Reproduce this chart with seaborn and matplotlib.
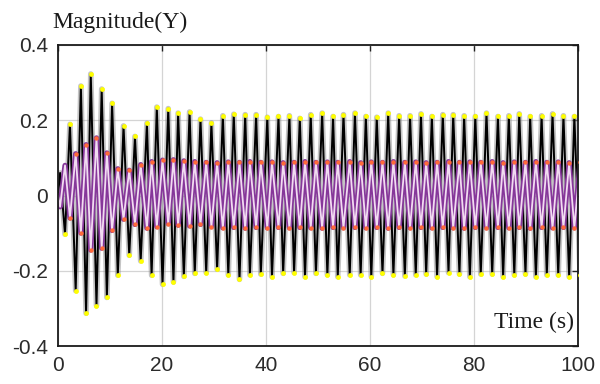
import matplotlib
matplotlib.use("Agg")
import matplotlib.pyplot as plt
import numpy as np
import pandas as pd
import seaborn as sns

# ---- data (extrema of each oscillation) ----
t = [0.0, 0.4, 1.35, 2.3, 3.4, 4.4, 5.4, 6.3, 7.4, 8.4, 9.4, 10.4, 11.5, 12.6,
     13.7, 14.8, 15.9, 17.1, 18.0, 19.0, 20.1, 21.2, 22.2, 23.1, 24.2, 25.3,
     26.3, 27.4, 28.5, 29.5, 30.6, 31.7, 32.75, 33.8, 34.9, 36.0, 36.9, 38.1,
     39.0, 40.25, 41.15, 42.4, 43.3, 44.5, 45.4, 46.5, 47.5, 48.6, 49.6, 50.8,
     51.8, 52.9, 53.8, 54.9, 56.1, 57.1, 58.2, 59.2, 60.25, 61.3, 62.4, 63.5,
     64.5, 65.6, 66.7, 67.7, 68.8, 69.8, 70.8, 71.9, 72.9, 74.0, 75.1, 76.0,
     77.2, 78.1, 79.2, 80.25, 81.3, 82.4, 83.5, 84.6, 85.6, 86.7, 87.75, 88.7,
     89.9, 90.8, 91.9, 93.0, 94.0, 95.1, 96.2, 97.2, 98.3, 99.3, 100.4]

y_outer = [0.0, 0.06, -0.103, 0.189, -0.253, 0.291, -0.313, 0.323, -0.293,
           0.283, -0.271, 0.245, -0.212, 0.185, -0.159, 0.157, -0.174, 0.192,
           -0.212, 0.235, -0.236, 0.231, -0.230, 0.219, -0.215, 0.222, -0.207,
           0.203, -0.205, 0.193, -0.196, 0.212, -0.211, 0.216, -0.223, 0.215,
           -0.211, 0.215, -0.209, 0.208, -0.216, 0.210, -0.207, 0.212, -0.205,
           0.205, -0.216, 0.215, -0.207, 0.219, -0.211, 0.210, -0.216, 0.215,
           -0.211, 0.219, -0.211, 0.210, -0.216, 0.208, -0.207, 0.219, -0.211,
           0.212, -0.214, 0.212, -0.211, 0.217, -0.209, 0.210, -0.216, 0.215,
           -0.205, 0.215, -0.209, 0.212, -0.216, 0.210, -0.209, 0.219, -0.209,
           0.210, -0.216, 0.212, -0.211, 0.217, -0.209, 0.210, -0.216, 0.212,
           -0.211, 0.217, -0.211, 0.212, -0.216, 0.210, -0.211]

y_inner = [0.0, -0.03, 0.08, -0.06, 0.111, -0.10, 0.135, -0.145, 0.153,
           -0.140, 0.113, -0.093, 0.071, -0.063, 0.067, -0.077, 0.082, -0.087,
           0.090, -0.083, 0.094, -0.075, 0.095, -0.079, 0.092, -0.081, 0.090,
           -0.077, 0.088, -0.083, 0.087, -0.086, 0.089, -0.085, 0.088, -0.087,
           0.090, -0.085, 0.088, -0.086, 0.089, -0.085, 0.087, -0.086, 0.088,
           -0.085, 0.090, -0.086, 0.088, -0.087, 0.089, -0.085, 0.088, -0.086,
           0.090, -0.085, 0.087, -0.086, 0.089, -0.085, 0.088, -0.087, 0.090,
           -0.085, 0.088, -0.086, 0.089, -0.085, 0.087, -0.086, 0.088, -0.085,
           0.090, -0.086, 0.088, -0.087, 0.089, -0.085, 0.088, -0.086, 0.090,
           -0.085, 0.087, -0.086, 0.089, -0.085, 0.088, -0.087, 0.090, -0.085,
           0.088, -0.086, 0.089, -0.085, 0.087, -0.086, 0.088]

x_ticks = [0, 20, 40, 60, 80, 100]
x_tick_labels = ["0", "20", "40", "60", "80", "100"]
y_ticks = [-0.4, -0.2, 0, 0.2, 0.4]
y_tick_labels = ["-0.4", "-0.2", "0", "0.2", "0.4"]

df = pd.DataFrame({"t": t, "outer": y_outer, "inner": y_inner})
peaks = df.iloc[2:]

sns.set_theme(style="white")
plt.rcParams["axes.unicode_minus"] = False
plt.rcParams["font.family"] = ["Liberation Sans", "DejaVu Sans"]

fig = plt.figure(figsize=(6, 3.84), dpi=100)
ax = fig.add_axes([58 / 600, 1 - 346 / 384, 520 / 600, 301 / 384])

ax.grid(True, color="#d4d4d4", lw=0.9)
ax.set_axisbelow(True)

sns.lineplot(data=df, x="t", y="outer", ax=ax, color="#8c8c8c", lw=4.0,
             alpha=0.5, sort=False)
sns.lineplot(data=df, x="t", y="outer", ax=ax, color="black", lw=1.4,
             sort=False)
sns.lineplot(data=df, x="t", y="inner", ax=ax, color="#86379a", lw=3.8,
             sort=False)
sns.lineplot(data=df, x="t", y="inner", ax=ax, color="#f2dcf2", lw=1.3,
             sort=False)
sns.scatterplot(data=peaks, x="t", y="outer", ax=ax, color="#ffff00", s=12,
                linewidth=0, zorder=5)
sns.scatterplot(data=peaks.iloc[1:], x="t", y="inner", ax=ax,
                color="#ff6a3a", s=10, linewidth=0, zorder=5)

ax.set_xlim(0, 100)
ax.set_ylim(-0.4, 0.4)
ax.set_xticks(x_ticks)
ax.set_xticklabels(x_tick_labels)
ax.set_yticks(y_ticks)
ax.set_yticklabels(y_tick_labels)
ax.set_xlabel("")
ax.set_ylabel("")
ax.tick_params(direction="in", top=True, right=True, length=4, width=1,
               color="#222222", labelsize=15, labelcolor="#2b2b2b", pad=7)
for s in ax.spines.values():
    s.set_color("#1a1a1a")
    s.set_linewidth(1.3)

fig.text(52 / 600, 1 - 22 / 384, "Magnitude(Y)", family="Liberation Serif",
         size=17, ha="left", va="center", color="#1a1a1a")
fig.text(574 / 600, 1 - 328 / 384, "Time (s)", family="Liberation Serif",
         size=17, ha="right", va="baseline", color="#1a1a1a")

fig.savefig("out.png", dpi=100)
